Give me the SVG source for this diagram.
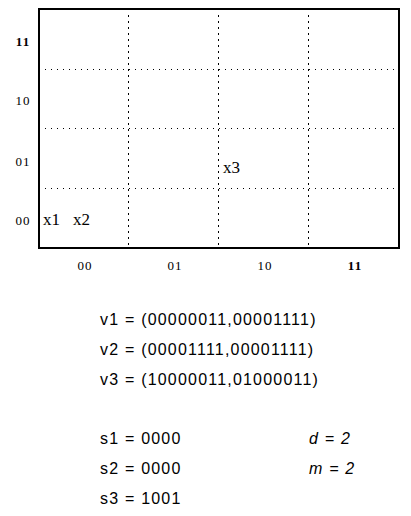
<svg xmlns="http://www.w3.org/2000/svg" width="411" height="516" viewBox="0 0 411 516">
<style>
.frame{fill:none;stroke:#000;stroke-width:2}
.hd{stroke:#000;stroke-width:1;stroke-dasharray:1 5}
.vd{stroke:#000;stroke-width:1;stroke-dasharray:2 4}
.ax{font-family:"Liberation Serif",serif;font-size:13px;letter-spacing:1px;fill:#000}
.pt{font-family:"Liberation Serif",serif;font-size:17px;fill:#000}
.tx{font-family:"Liberation Sans",Arial,sans-serif;font-size:16px;letter-spacing:1.2px;fill:#000}
.it{font-style:italic}
</style>
<g id="grid">
<rect class="frame" x="39" y="9" width="360" height="239"/>
<line class="hd" x1="45" y1="69.5" x2="396" y2="69.5"/>
<line class="hd" x1="45" y1="128.5" x2="396" y2="128.5"/>
<line class="hd" x1="45" y1="188.5" x2="396" y2="188.5"/>
<line class="vd" x1="128.5" y1="15" x2="128.5" y2="245"/>
<line class="vd" x1="218.5" y1="15" x2="218.5" y2="245"/>
<line class="vd" x1="308.5" y1="15" x2="308.5" y2="245"/>
</g>
<g id="y-labels" class="ax" text-anchor="middle">
<text x="23" y="46" font-weight="bold">11</text>
<text x="23" y="105">10</text>
<text x="23" y="166">01</text>
<text x="23" y="225">00</text>
</g>
<g id="x-labels" class="ax" text-anchor="middle">
<text x="85" y="270">00</text>
<text x="175" y="270">01</text>
<text x="265" y="270">10</text>
<text x="355" y="270" font-weight="bold">11</text>
</g>
<g id="points" class="pt">
<text x="43" y="225">x1</text>
<text x="73" y="225">x2</text>
<text x="223" y="173">x3</text>
</g>
<g id="vectors" class="tx">
<text x="100" y="325">v1 = (00000011,00001111)</text>
<text x="100" y="355">v2 = (00001111,00001111)</text>
<text x="100" y="385">v3 = (10000011,01000011)</text>
</g>
<g id="signatures" class="tx">
<text x="100" y="444">s1 = 0000</text>
<text x="100" y="474">s2 = 0000</text>
<text x="100" y="504">s3 = 1001</text>
<text class="it" x="309" y="444">d = 2</text>
<text class="it" x="309" y="474">m = 2</text>
</g>
</svg>
